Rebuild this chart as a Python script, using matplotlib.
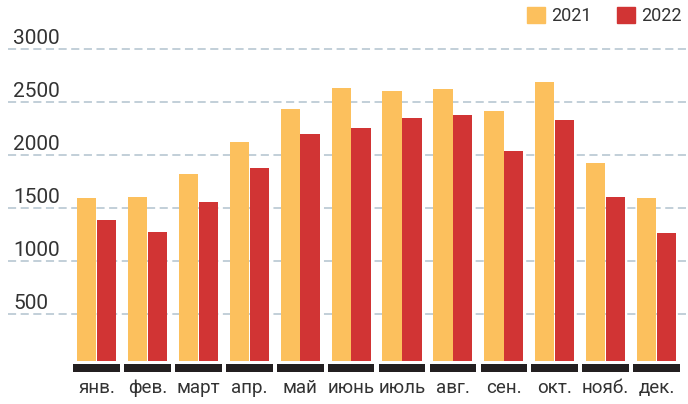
import matplotlib.pyplot as plt
from matplotlib.patches import Patch

months = ['янв.', 'фев.', 'март', 'апр.', 'май', 'июнь', 'июль', 'авг.', 'сен.', 'окт.', 'нояб.', 'дек.']
v2021 = [1594, 1602, 1819, 2123, 2434, 2632, 2604, 2623, 2415, 2689, 1925, 1594]
v2022 = [1386, 1276, 1555, 1877, 2198, 2255, 2349, 2377, 2038, 2330, 1604, 1264]
yticks = [500, 1000, 1500, 2000, 2500, 3000]

c21 = '#FCC05D'
c22 = '#D13434'
grid_c = '#BDCCD6'
txt_c = '#333333'

plt.rcParams['font.family'] = ['Roboto', 'DejaVu Sans']

fig = plt.figure(figsize=(6.88, 4.04), dpi=100)
ax = fig.add_axes([0, 0, 1, 1])
ax.set_xlim(-1.90, 11.62)
ax.set_ylim(-349, 3462)
ax.axis('off')

x = list(range(len(months)))
w = 0.38
base = 57  # bars stop a bit above the black strip

for y in yticks:
    ax.plot([-1.74, 11.6], [y, y], color=grid_c, lw=1.3, ls=(0, (4.5, 2.5)), zorder=0)
    ax.annotate(str(y), xy=(13 / 688, y), xycoords=('axes fraction', 'data'),
                xytext=(0, 3.6), textcoords='offset points',
                ha='left', va='baseline', fontsize=15, color=txt_c)

ax.bar([i - w / 2 - 0.005 for i in x], [v - base for v in v2021], w, bottom=base,
       color=c21, zorder=2)
ax.bar([i + w / 2 + 0.005 for i in x], [v - base for v in v2022], w, bottom=base,
       color=c22, zorder=2)

# black strip under each month
ax.bar(x, [75] * len(x), 0.915, bottom=-47, color='#231F20', zorder=2)

for i, m in enumerate(months):
    ax.text(i, -198, m, ha='center', va='center', fontsize=13.5, color=txt_c)

handles = [Patch(color=c21, label='2021'), Patch(color=c22, label='2022')]
fig.legend(handles=handles, loc='upper right', bbox_to_anchor=(682 / 688, 1 - 7 / 404),
           ncol=2, frameon=False, fontsize=13, handlelength=1.0, handleheight=1.0,
           handletextpad=0.35, columnspacing=1.4, borderpad=0, borderaxespad=0,
           labelcolor=txt_c)

fig.savefig('out.png', dpi=100)
